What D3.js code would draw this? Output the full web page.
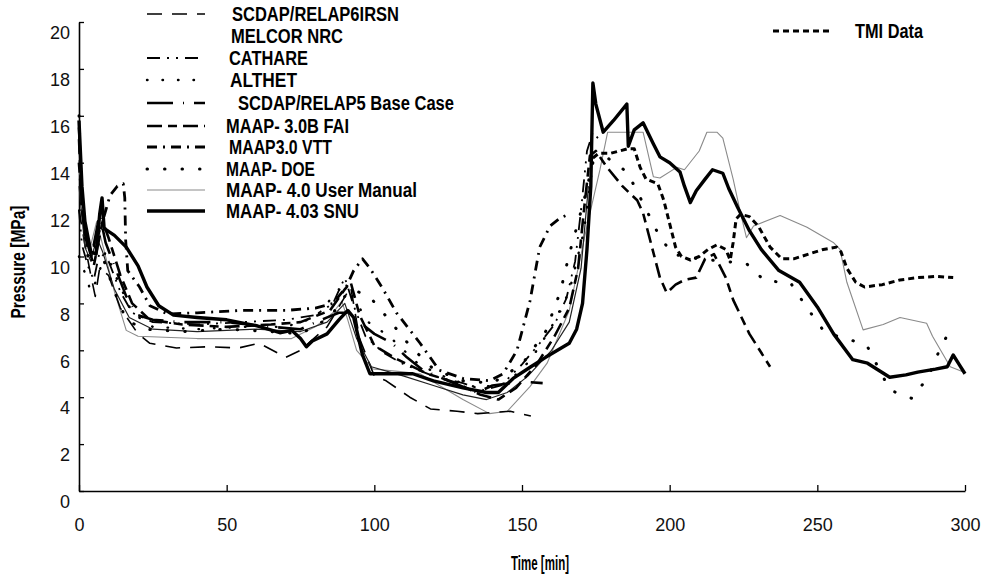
<!DOCTYPE html>
<html>
<head>
<meta charset="utf-8">
<script src="https://cdn.jsdelivr.net/npm/d3@7"></script>
<style>
  body { margin: 0; background: #fff; }
  svg { display: block; }
  .tick text { font-family: "Liberation Sans", Arial, sans-serif; font-size: 18px; fill: #111; }
  .lbl { font-family: "Liberation Sans Narrow", "Arial Narrow", "Liberation Sans", Arial, sans-serif; font-weight: bold; font-size: 20px; fill: #000; }
</style>
</head>
<body>
<script>
// time [min] / pressure [MPa] pairs
var irsn = [[0,12],[2,10.5],[4,9.2],[5.5,8.3],[7,9.5],[10,9.2],[14,7.8],[20,6.7],[24,6.3],[33,6.1],[44,6.15],[54,6.1],[61,6.3],[70,5.7],[75,6.0],[84,7.0],[92,8.7],[95,6.5],[100,4.9],[104,4.7],[112,4.0],[119,3.5],[128,3.4],[135,3.3],[140,3.35],[146,3.4],[153,3.2]];
var melcor = [[0,13],[2,10.4],[4,9.8],[6,10.8],[8,10.2],[12,8.6],[17,7.4],[25,6.9],[40,6.8],[60,6.9],[75,6.8],[84,7.2],[90,8.0],[94,6.5],[99,5.3],[110,4.9],[120,4.5],[130,4.1],[138,3.9],[145,4.2],[152,4.9],[160,6.0],[166,7.2],[170,9.5],[172.5,13]];
var cathare = [[0,12],[1,10.5],[3,9.6],[5,9.0],[7,10.2],[10,9.8],[14,8.5],[18,7.6],[25,7.2],[40,7.1],[55,7.2],[70,7.3],[80,7.5],[86,8.0],[90,9.1],[93,7.9],[97,6.6],[103,5.9],[110,5.4],[120,4.9],[130,4.6],[137,4.3],[143,4.5],[150,5.4],[156,6.3],[161,7.1],[165,8.2],[168,9.8],[170,12],[172,14.5],[174,15.3],[176,15.0]];
var althet = [[0,10],[2,9.3],[4,8.5],[6,9.0],[9,10.2],[13,9.0],[18,7.6],[25,7.0],[40,6.9],[55,7.0],[70,7.0],[80,7.4],[88,8.6],[92,8.4],[98,7.2],[105,6.6],[115,5.4],[125,4.8],[135,4.4],[145,4.6],[153,5.6],[160,7.0],[166,8.5],[171,11.1],[174,14]];
var baseCase = [[0,15.5],[1,12.5],[2,11],[3.5,10],[5,10.5],[7,11.8],[9,10.6],[12,9.6],[16,8.3],[20,7.5],[25,7.3],[35,7.2],[50,7.2],[65,7.0],[75,6.9],[82,7.3],[88,7.6],[91,7.6],[95,7.2],[100,6.7],[106,6.3],[111,5.7],[116.5,5.15],[125,4.7],[134.7,4.2],[140,4.5],[146,4.6],[152,4.65],[157,4.6]];
var maapFai = [[0,15],[1,12],[3,10.5],[5,9.6],[8,11.5],[10,10.8],[14,9.2],[18,8.0],[24,7.3],[35,7.1],[50,7.0],[65,7.1],[75,7.2],[85,7.7],[90,8.6],[92,8.9],[95,7.5],[100,6.2],[108,5.6],[118,5.0],[128,4.6],[136,4.1],[142,3.9],[148,4.4],[155,5.4],[161,6.6],[166,7.8],[169,9.5],[171,12],[173,14.3],[175,14.5],[178.8,13.8],[184,13.0],[189,12.4],[191,11.85],[196.7,9.1],[199,8.45],[202,8.8],[205,9.0],[209,9.1],[212,9.9],[215,10.1],[219,9.1],[221.5,8.15],[227,6.7],[234,5.3]];
var maapVtt = [[0,14],[1.5,11.5],[3,10.6],[5,10.4],[8,11.5],[10.5,12.6],[13,13.0],[15,13.1],[15.5,12.5],[15.8,10.7],[16.5,9.4],[20.5,8.7],[24,7.9],[30,7.55],[40,7.6],[55,7.7],[70,7.7],[80,7.8],[86,8.0],[90.5,8.7],[93,9.4],[96,9.9],[98.5,9.5],[103,8.6],[107.5,7.6],[115.5,6.3],[122,5.15],[130,4.8],[139,4.7],[143.6,5.0],[148.3,6.0],[152.7,8.1],[156,10.4],[159.5,11.3],[163,11.65],[166,11.8]];
var maapDoe = [[0,16],[1,12],[3,10],[5,10.5],[8,10],[12,8.5],[16,7.3],[22,6.9],[35,6.8],[50,6.9],[65,6.8],[75,6.7],[85,7.4],[90,8.3],[93,8.6],[99,8.2],[105,7.3],[112,6.2],[120,5.2],[130,4.7],[140,4.6],[150,5.4],[158,6.8],[163,8.5],[166,10.1],[168,11],[171,12.4],[174,14],[179,14.2],[185.6,13.6],[189.3,12.7],[196,11.0],[200.8,10.1],[210,9.9],[218,9.8],[226,9.7],[232.3,8.95],[240.8,8.9],[246,7.9],[252.6,6.75],[260,6.5],[266.8,6.2],[274.6,4.3],[282,3.95],[287.5,4.85],[291,5.9],[295,6.9]];
var maapUser = [[0,14],[2,11],[4,10.5],[6,11.5],[8,10.5],[12,8.5],[16,6.85],[20,6.6],[40,6.5],[60,6.5],[72,6.5],[80,7.0],[86,7.6],[89,8.1],[91,7.3],[94,6.0],[99.6,5.2],[108,5.1],[115.5,5.0],[122,4.5],[130,3.9],[139,3.3],[145,3.4],[152.7,4.45],[158.5,5.45],[166,7.7],[172,11.3],[176.4,13.7],[179,15.3],[191,15.3],[194.5,13.4],[196.7,13.35],[202.4,13.8],[205,13.7],[210,14.5],[212.6,15.3],[216,15.3],[218,15.05],[221.5,13.3],[224,11.85],[226,10.8],[228.4,11.3],[237.4,11.75],[246.5,11.25],[255.4,10.6],[257.7,10.3],[260,8.9],[265.5,6.87],[272.3,7.1],[278,7.4],[287,7.15],[289,6.6],[295,5.3],[299.5,5.07]];
var maapSnu = [[0,15.8],[1,13],[2,11.5],[4,10.2],[5.8,10.1],[7,11.8],[7.8,12.5],[8.5,11.2],[12,10.9],[16,10.4],[20,9.6],[23,8.7],[27,7.9],[32,7.5],[40,7.4],[50,7.3],[60,7.05],[68,6.75],[72,6.85],[75,6.5],[77,6.15],[79,6.4],[84,6.7],[88,7.3],[91,7.7],[93,7.4],[96,5.8],[98.5,5.0],[105,5.0],[113,5.0],[120,4.7],[130,4.4],[138,4.2],[142,4.2],[147,4.8],[153,5.3],[158,5.7],[164,6.15],[166,6.3],[168.5,6.9],[170.5,8.0],[172,10.3],[173.3,13],[174,17.4],[175,16.5],[177.5,15.3],[181,15.8],[185.5,16.5],[186,14.7],[188,15.4],[191,15.7],[194.5,14.8],[196.7,14.25],[200,14.0],[203.5,13.6],[205,13.0],[207,12.3],[209,12.8],[212,13.3],[214.5,13.7],[218,13.55],[220,12.9],[223,12.1],[227,11.1],[231,10.3],[237,9.4],[244,8.9],[250,7.85],[255.5,6.7],[262,5.6],[267,5.45],[274.5,4.85],[280,4.95],[284,5.07],[290,5.2],[294,5.3],[296,5.8],[298,5.4],[300,5.0]];
var tmiData = [[174,14.2],[176,14.4],[180,14.4],[186,14.6],[188,14.6],[190,13.8],[192,13.3],[196,13.1],[198,12.4],[200,11.4],[202,10.4],[204,10.0],[207,9.85],[210,10.0],[213,10.3],[216,10.5],[219,10.3],[220.5,9.85],[221.5,10.6],[222.5,11.6],[224,11.8],[227,11.7],[230,11.3],[234,10.4],[238,9.9],[242,9.9],[247,10.1],[252,10.3],[256.5,10.4],[258,10.2],[260,9.5],[263,8.9],[266,8.7],[272,8.8],[278,9.0],[284,9.1],[290,9.15],[296,9.1]];

var seriesNames = ["SCDAP/RELAP6IRSN", "MELCOR NRC", "CATHARE", "ALTHET", "SCDAP/RELAP5 Base Case",
  "MAAP- 3.0B FAI", "MAAP3.0 VTT", "MAAP- DOE", "MAAP-  4.0 User Manual", "MAAP-  4.03 SNU"];
var seriesData = [irsn, melcor, cathare, althet, baseCase, maapFai, maapVtt, maapDoe, maapUser, maapSnu];

var xTicks = [0, 50, 100, 150, 200, 250, 300];
var yTicks = [0, 2, 4, 6, 8, 10, 12, 14, 16, 18, 20];

// line looks, same order as the series
var styles = [
  {w: 1.6, dash: "15,10", color: "#000"},
  {w: 1.2, dash: null, color: "#222"},
  {w: 1.8, dash: "13,7,2,7,2,7", color: "#000"},
  {w: 2.4, dash: "0.5,15", color: "#000", cap: "round"},
  {w: 2.6, dash: "26,10,1,10", color: "#000"},
  {w: 2.6, dash: "15,6,9,6", color: "#000"},
  {w: 2.8, dash: "10,6,2,6", color: "#000"},
  {w: 3, dash: "0.5,17", color: "#000", cap: "round"},
  {w: 1.1, dash: null, color: "#8a8a8a"},
  {w: 3.4, dash: null, color: "#000"}
];
var legendX = [232, 231, 229, 230, 238, 226, 229, 226, 226, 226];
var legendY = [14, 36, 58, 80, 103, 126, 147, 169, 190, 211];
var legendW = [167, 112, 79, 67, 216, 123, 103, 89, 191, 133];

var svg = d3.select("body").append("svg")
  .attr("width", 986)
  .attr("height", 576);

var x = d3.scaleLinear().domain([0, 300]).range([79, 965]);
var y = d3.scaleLinear().domain([0, 20]).range([491, 22]);

// axes: ticks point inward, labels sit a bit low like in the scan
svg.append("g")
  .attr("transform", "translate(79,0)")
  .call(d3.axisLeft(y).tickValues(yTicks).tickSizeInner(-5).tickSizeOuter(0).tickPadding(9))
  .call(function(g) {
    g.select(".domain").attr("stroke-width", 1.6);
    g.selectAll(".tick line").attr("stroke-width", 1.3);
    g.selectAll(".tick text").attr("y", 11);
  });

svg.append("g")
  .attr("transform", "translate(0,491)")
  .call(d3.axisBottom(x).tickValues(xTicks).tickSizeInner(-6).tickSizeOuter(0).tickPadding(27))
  .call(function(g) {
    g.select(".domain").attr("stroke-width", 1.6);
    g.selectAll(".tick line").attr("stroke-width", 1.3);
  });

svg.append("text")
  .attr("class", "lbl")
  .attr("transform", "translate(25,262) rotate(-90)")
  .attr("text-anchor", "middle")
  .attr("textLength", 113)
  .attr("lengthAdjust", "spacingAndGlyphs")
  .text("Pressure [MPa]");

svg.append("text")
  .attr("class", "lbl")
  .attr("x", 540)
  .attr("y", 570)
  .attr("text-anchor", "middle")
  .attr("textLength", 58)
  .attr("lengthAdjust", "spacingAndGlyphs")
  .text("Time [min]");

var line = d3.line()
  .x(function(d) { return x(d[0]); })
  .y(function(d) { return y(d[1]); });

function styleLine(sel, s) {
  sel.attr("fill", "none")
    .attr("stroke", s.color)
    .attr("stroke-width", s.w)
    .attr("stroke-linejoin", "round")
    .attr("stroke-linecap", s.cap || "butt")
    .attr("stroke-dasharray", s.dash);
}

// grey user manual first so black ones sit on top
var order = [8, 0, 1, 2, 3, 4, 5, 6, 7, 9];
order.forEach(function(i) {
  svg.append("path")
    .datum(seriesData[i])
    .attr("d", line)
    .call(styleLine, styles[i]);
});

svg.append("path")
  .datum(tmiData)
  .attr("d", line)
  .call(styleLine, {w: 3, dash: "6,4", color: "#000"});

// legend (MELCOR has no sample line in the original)
seriesNames.forEach(function(name, i) {
  if (i != 1) {
    svg.append("line")
      .attr("x1", 147).attr("x2", 205)
      .attr("y1", legendY[i]).attr("y2", legendY[i])
      .call(styleLine, styles[i]);
  }
  svg.append("text")
    .attr("class", "lbl")
    .attr("x", legendX[i])
    .attr("y", legendY[i])
    .attr("dy", "0.36em")
    .attr("textLength", legendW[i])
    .attr("lengthAdjust", "spacingAndGlyphs")
    .text(name);
});

svg.append("line")
  .attr("x1", 773).attr("x2", 832)
  .attr("y1", 31).attr("y2", 31)
  .call(styleLine, {w: 3, dash: "6,4", color: "#000"});

svg.append("text")
  .attr("class", "lbl")
  .attr("x", 855)
  .attr("y", 31)
  .attr("dy", "0.36em")
  .attr("textLength", 68)
  .attr("lengthAdjust", "spacingAndGlyphs")
  .text("TMI Data");
</script>
</body>
</html>
